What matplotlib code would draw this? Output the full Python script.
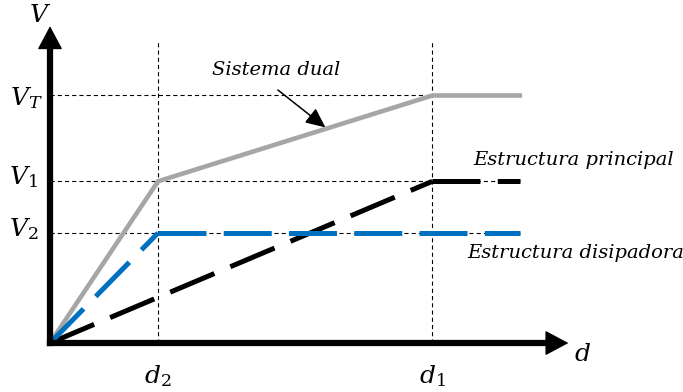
import matplotlib
matplotlib.use("Agg")
import matplotlib.pyplot as plt

plt.rcParams['lines.scale_dashes'] = False
plt.rcParams['mathtext.fontset'] = 'dejavuserif'

# characteristic displacements and forces
d2, d1, d_end = 1.0, 3.54, 4.35
V2, V1, VT = 1.0, 1.47, 2.25

# force-displacement curves
dual_d = [0, d2, d1, d_end]
dual_V = [0, V1, VT, VT]
principal_d = [0, d1, d_end]
principal_V = [0, V1, V1]
disip_d = [0, d2, d_end]
disip_V = [0, V2, V2]

fig = plt.figure(figsize=(6.83, 3.92), dpi=100)
ax = fig.add_axes([0, 0, 1, 1])
ax.set_xlim(-0.463, 5.861)
ax.set_ylim(-0.445, 3.118)
ax.axis('off')

# guide lines
guide = dict(color='black', lw=0.8, dashes=(3, 2.2), zorder=1)
for d in (d2, d1):
    ax.plot([d, d], [0, 2.74], **guide)
for v in (VT, V1, V2):
    ax.plot([0, d_end], [v, v], **guide)

# curves
ax.plot(dual_d, dual_V, color='#a6a6a6', lw=3.3, zorder=3, solid_joinstyle='miter')


def dashed_polyline(xs, ys, color):
    # dash pattern restarts at every vertex
    for i in range(len(xs) - 1):
        ax.plot(xs[i:i + 2], ys[i:i + 2], color=color, lw=3.6,
                dashes=(34.5, 12.5), dash_capstyle='butt', zorder=4)


dashed_polyline(principal_d, principal_V, 'black')
dashed_polyline(disip_d, disip_V, '#0070c0')

# axes with arrows
x_tip, y_tip = 4.80, 2.88
ax.plot([0, x_tip - 0.15], [0, 0], color='black', lw=4.5, solid_capstyle='projecting', zorder=5)
ax.plot([0, 0], [0, y_tip - 0.15], color='black', lw=4.5, solid_capstyle='projecting', zorder=5)
head = dict(arrowstyle='-|>,head_length=1.5,head_width=0.8', mutation_scale=10,
            lw=1, fc='black', ec='black', shrinkA=0, shrinkB=0)
ax.annotate('', xy=(x_tip, 0), xytext=(x_tip - 0.3, 0), arrowprops=head, zorder=6)
ax.annotate('', xy=(0, y_tip), xytext=(0, y_tip - 0.3), arrowprops=head, zorder=6)

# axis labels
fs = 18
ax.text(-0.09, 2.98, r'$V$', fontsize=fs, ha='center', va='center')
ax.text(4.93, -0.1, r'$d$', fontsize=fs, ha='center', va='center')
ax.text(-0.07, VT - 0.02, r'$V_T$', fontsize=fs, ha='right', va='center')
ax.text(-0.11, V1 + 0.04, r'$V_1$', fontsize=fs, ha='right', va='center')
ax.text(-0.11, V2 + 0.04, r'$V_2$', fontsize=fs, ha='right', va='center')
ax.text(d2, -0.3, r'$d_2$', fontsize=fs, ha='center', va='center')
ax.text(d1, -0.3, r'$d_1$', fontsize=fs, ha='center', va='center')

# curve labels
lab = dict(fontsize=14, family='DejaVu Serif', style='italic', va='center')
ax.text(3.92, 1.66, 'Estructura principal', ha='left', **lab)
ax.text(3.86, 0.82, 'Estructura disipadora', ha='left', **lab)
ax.text(1.5, 2.48, 'Sistema dual', ha='left', **lab)
ax.annotate('', xy=(2.55, 1.96), xytext=(2.11, 2.30),
            arrowprops=dict(arrowstyle='-|>,head_length=1.2,head_width=0.55',
                            mutation_scale=10, lw=1.1, fc='black', ec='black',
                            shrinkA=0, shrinkB=0))

fig.savefig('out.png', dpi=100)
